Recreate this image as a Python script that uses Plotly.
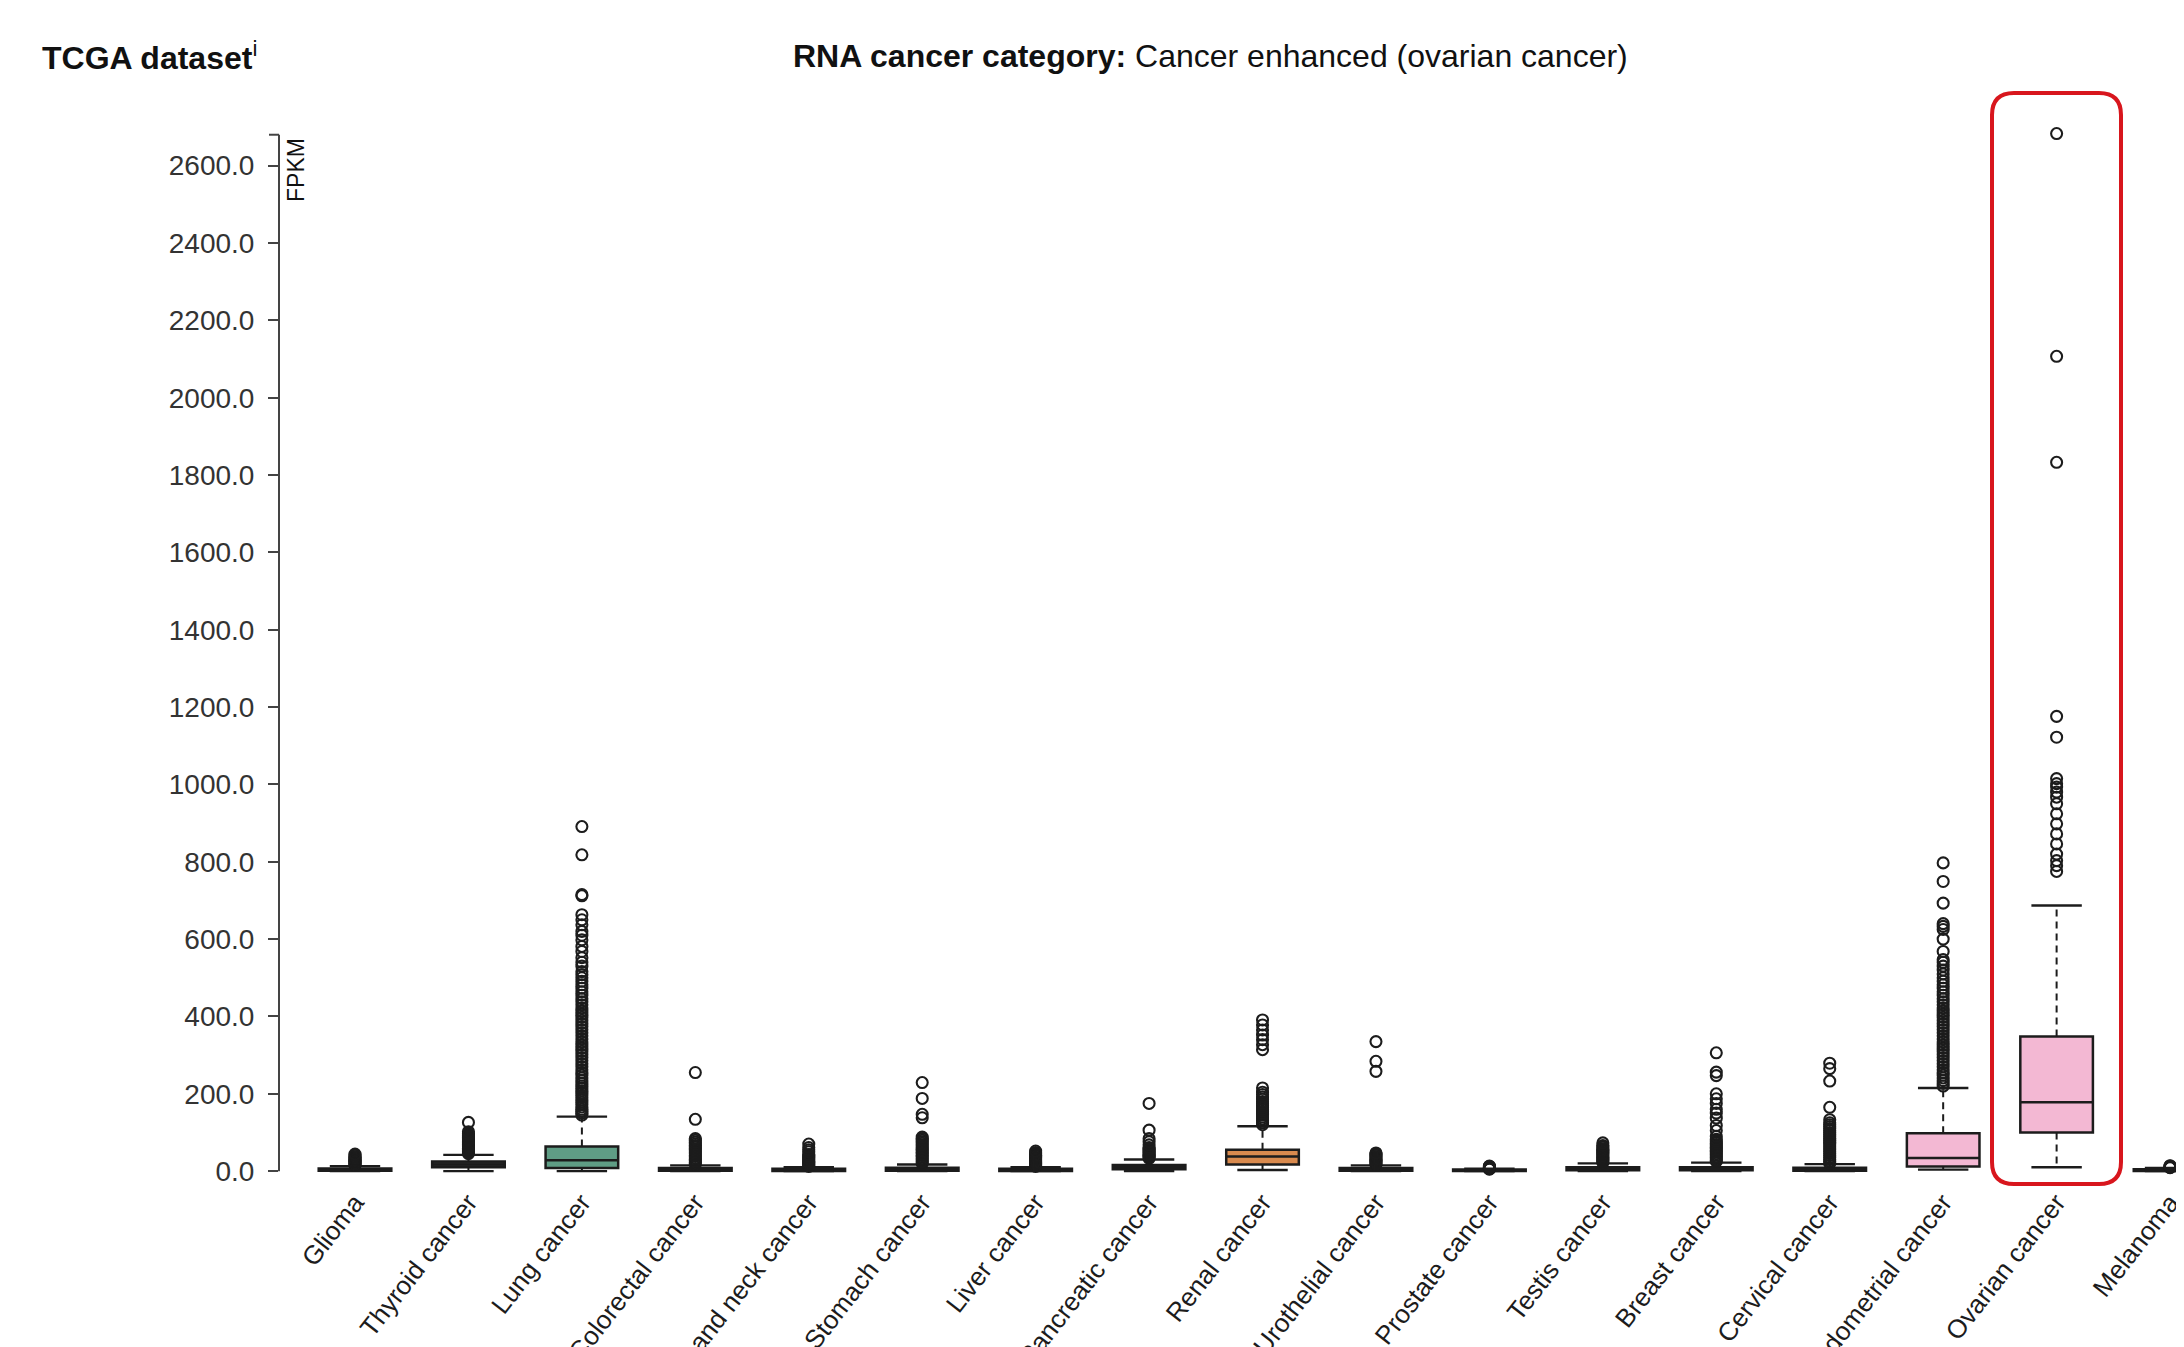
import plotly.graph_objects as go

# ---------------- data ----------------
categories = ["Glioma", "Thyroid cancer", "Lung cancer", "Colorectal cancer",
              "Head and neck cancer", "Stomach cancer", "Liver cancer",
              "Pancreatic cancer", "Renal cancer", "Urothelial cancer",
              "Prostate cancer", "Testis cancer", "Breast cancer",
              "Cervical cancer", "Endometrial cancer", "Ovarian cancer", "Melanoma"]

q1 =            [1,  10,   8, 1,   0.5, 1,  0.5,  5,  17, 1,  0.5, 2,  2,  1,  12, 100, 0.5]
median =        [3,  17,  28, 3,   2,   3,  2,   10,  38, 3,  1.5, 5,  5,  3,  34, 178, 2]
q3 =            [7,  25,  64, 8,   6,   9,  6,   16,  55, 8,  4,  10, 10,  9,  98, 348, 5]
lower_whisker = [0,   0,   0, 0,   0,   0,  0,    0,   3, 0,  0,   0,  0,  0,   4,  10, 0]
upper_whisker = [13, 42, 141, 15, 10,  17, 10,   30, 116, 15, 6,  20, 22, 18, 215, 687, 8]

glioma_out = [15, 17, 19, 21, 23, 25, 27, 29, 31, 33, 35, 38, 41, 44]
thyroid_out = [45, 48, 51, 54, 57, 60, 63, 66, 69, 72, 75, 78, 81, 84, 87, 90, 93, 97, 102, 126]
lung_out = [145, 150, 155, 160, 166, 172, 178, 184, 190, 196, 202, 208, 214, 220, 227,
            234, 241, 248, 255, 262, 270, 278, 286, 294, 302, 310, 318, 326, 334, 342,
            350, 358, 366, 374, 382, 390, 398, 406, 414, 422, 430, 438, 446, 455, 464,
            473, 482, 491, 500, 508, 516, 530, 540, 552, 568, 581, 598, 610, 620, 637,
            650, 663, 712, 715, 818, 891]
colorectal_out = [18, 22, 26, 30, 34, 38, 42, 46, 50, 54, 58, 62, 66, 70, 75, 80, 84, 134, 255]
headneck_out = [12, 15, 18, 21, 24, 27, 30, 33, 36, 39, 43, 50, 55, 61, 70]
stomach_out = [20, 24, 28, 32, 36, 40, 44, 48, 52, 56, 60, 64, 68, 72, 76, 80, 84, 88,
               138, 147, 188, 229]
liver_out = [12, 15, 18, 21, 24, 27, 30, 33, 36, 39, 42, 45, 48, 52]
pancreatic_out = [33, 36, 39, 42, 45, 48, 51, 54, 57, 61, 68, 76, 84, 106, 175]
renal_out = [120, 125, 130, 135, 140, 145, 150, 155, 160, 165, 170, 175, 180, 186, 192,
             198, 204, 215, 314, 327, 340, 352, 365, 378, 391]
urothelial_out = [17, 20, 23, 26, 29, 32, 35, 38, 41, 44, 47, 258, 284, 335]
prostate_out = [5, 6, 7, 8, 9, 10, 11, 12, 13]
testis_out = [22, 25, 28, 31, 34, 37, 40, 43, 46, 49, 52, 55, 58, 62, 66, 73]
breast_out = [25, 29, 33, 37, 41, 45, 49, 53, 57, 61, 65, 69, 73, 77, 82, 90, 105, 118,
              137, 150, 160, 175, 187, 200, 247, 256, 306]
cervical_out = [20, 25, 30, 35, 40, 45, 50, 55, 60, 65, 70, 75, 80, 85, 90, 95, 100, 105,
                110, 115, 120, 125, 133, 165, 233, 265, 279]
endometrial_out = [220, 227, 234, 241, 248, 255, 262, 270, 278, 286, 294, 302, 310, 318,
                   326, 334, 342, 350, 358, 366, 374, 382, 390, 398, 406, 414, 422, 430,
                   438, 446, 455, 464, 473, 482, 491, 500, 510, 520, 530, 540, 547, 568,
                   600, 625, 633, 640, 693, 749, 797]
ovarian_out = [775, 790, 803, 820, 846, 872, 898, 924, 950, 967, 980, 993, 1002, 1015,
               1122, 1176, 1833, 2107, 2683]
melanoma_out = [9, 10, 11, 12, 13, 14]

outliers = [glioma_out, thyroid_out, lung_out, colorectal_out, headneck_out, stomach_out,
            liver_out, pancreatic_out, renal_out, urothelial_out, prostate_out, testis_out,
            breast_out, cervical_out, endometrial_out, ovarian_out, melanoma_out]

box_colors = ["#333333", "#333333", "#5f9d85", "#333333", "#333333", "#333333", "#333333",
              "#333333", "#d98a4e", "#333333", "#333333", "#333333", "#333333", "#333333",
              "#f3b8d3", "#f3b8d3", "#333333"]

y_ticks = [0, 200, 400, 600, 800, 1000, 1200, 1400, 1600, 1800, 2000, 2200, 2400, 2600]
axis_top = 2680

# ---------------- layout geometry ----------------
W, H = 2184, 1347
OFF = 8                      # page body margin in the browser
ML, MR, MT, MB = 271, 8, 119, 180
PW, PH = W - ML - MR, H - MT - MB


def px(x):                   # screen pixel -> paper x
    return (x - OFF - ML) / PW


def py(y):                   # screen pixel -> paper y
    return (H - MB - (y - OFF)) / PH


INK = "#1c1c1c"
AXIS = "#444444"
FONT = "Liberation Sans, Arial, Helvetica, sans-serif"

fig = go.Figure()

# boxes (whiskers drawn separately so they can be dashed)
for i, cat in enumerate(categories):
    fig.add_trace(go.Box(
        x=[cat], q1=[q1[i]], median=[median[i]], q3=[q3[i]],
        lowerfence=[q1[i]], upperfence=[q3[i]],
        width=0.64, whiskerwidth=0, boxpoints=False,
        fillcolor=box_colors[i], line=dict(color=INK, width=2.5),
        showlegend=False, hoverinfo="skip"))

# dashed whiskers
wx, wy = [], []
for i, cat in enumerate(categories):
    wx += [cat, cat, None, cat, cat, None]
    wy += [q3[i], upper_whisker[i], None, q1[i], lower_whisker[i], None]
fig.add_trace(go.Scatter(x=wx, y=wy, mode="lines",
                         line=dict(color=INK, width=2, dash="7px,5px"),
                         showlegend=False, hoverinfo="skip"))

# whisker caps
cx, cy = [], []
for i, cat in enumerate(categories):
    cx += [cat, cat]
    cy += [upper_whisker[i], lower_whisker[i]]
fig.add_trace(go.Scatter(x=cx, y=cy, mode="markers",
                         marker=dict(symbol="line-ew", size=36,
                                     line=dict(color=INK, width=2.4)),
                         showlegend=False, hoverinfo="skip"))

# outliers
ox, oy = [], []
for i, cat in enumerate(categories):
    ox += [cat] * len(outliers[i])
    oy += outliers[i]
fig.add_trace(go.Scatter(x=ox, y=oy, mode="markers", cliponaxis=False,
                         marker=dict(symbol="circle-open", size=11, color=INK,
                                     line=dict(width=2.1)),
                         showlegend=False, hoverinfo="skip"))

# y axis domain line (0 .. axis_top) with outer tick at the top
fig.add_shape(type="line", xref="paper", yref="y", x0=0, x1=0, y0=0, y1=axis_top,
              line=dict(color=AXIS, width=2))
fig.add_shape(type="line", xref="paper", yref="y", x0=-10 / PW, x1=0,
              y0=axis_top, y1=axis_top, line=dict(color=AXIS, width=2))

# red highlight around ovarian cancer (rounded rectangle), screen pixels
L, R, T, B, r = 1992, 2121, 93, 1184, 22
path = (f"M {px(L + r)},{py(T)} H {px(R - r)} Q {px(R)},{py(T)} {px(R)},{py(T + r)} "
        f"V {py(B - r)} Q {px(R)},{py(B)} {px(R - r)},{py(B)} "
        f"H {px(L + r)} Q {px(L)},{py(B)} {px(L)},{py(B - r)} "
        f"V {py(T + r)} Q {px(L)},{py(T)} {px(L + r)},{py(T)} Z")
fig.add_shape(type="path", path=path, xref="paper", yref="paper",
              line=dict(color="#d8161d", width=4), layer="above")

fig.update_layout(
    width=W, height=H,
    margin=dict(l=ML, r=MR, t=MT, b=MB, pad=0),
    paper_bgcolor="white", plot_bgcolor="white",
    boxmode="overlay", showlegend=False,
    font=dict(family=FONT, color=INK),
    xaxis=dict(type="category", categoryorder="array", categoryarray=categories,
               range=[-0.67, 16.123], showline=False, showgrid=False, zeroline=False,
               ticks="", tickangle=-52, tickfont=dict(size=26, color=INK),
               automargin=False, ticklabelstandoff=6),
    yaxis=dict(range=[-10, 2700], showline=False, showgrid=False, zeroline=False,
               tickvals=y_ticks, ticktext=[f"{v:.1f}" for v in y_ticks],
               ticks="outside", ticklen=10, tickwidth=2, tickcolor=AXIS,
               tickfont=dict(size=28, color="#333"), automargin=False,
               ticklabelstandoff=8),
    annotations=[
        dict(text="<b>TCGA dataset</b><sup>i</sup>", xref="paper", yref="paper",
             x=px(40), y=py(56), xanchor="left", yanchor="middle", showarrow=False,
             font=dict(size=32, color="#111")),
        dict(text="<b>RNA cancer category:</b> Cancer enhanced (ovarian cancer)",
             xref="paper", yref="paper", x=px(791), y=py(56), xanchor="left",
             yanchor="middle", showarrow=False, font=dict(size=32, color="#111")),
        dict(text="FPKM", xref="paper", yref="paper", x=px(296), y=py(170),
             xanchor="center", yanchor="middle", textangle=-90, showarrow=False,
             font=dict(size=23, color="#111")),
    ],
)

fig.write_html("out.html")
